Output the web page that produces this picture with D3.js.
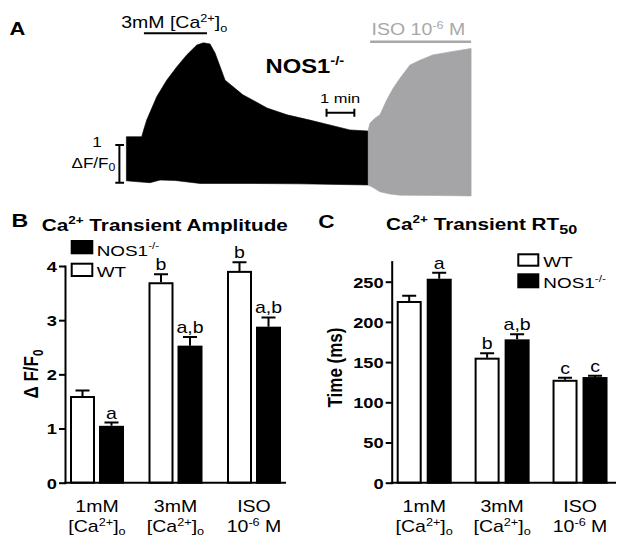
<!DOCTYPE html>
<html><head><meta charset="utf-8">
<script src="https://cdn.jsdelivr.net/npm/d3@7"></script>
<style>body{margin:0;background:#fff}svg{display:block}</style>
</head><body>
<svg id="c" width="624" height="544"></svg>
<script>
// ---------- DATA ----------
// Panel A trace envelope (time in min, value in ΔF/F0)
const blackTop = [[0,1.22],[0.55,1.22],[0.62,1.40],[0.73,1.66],[1.09,2.28],[1.45,2.72],[1.81,3.07],[2.17,3.39],[2.53,3.65],[2.77,3.71],[3.01,3.68],[3.19,3.44],[3.37,3.08],[3.55,2.72],[3.83,2.55],[4.19,2.33],[4.55,2.19],[5.06,1.98],[5.78,1.80],[6.60,1.66],[7.32,1.53],[8.04,1.40],[8.70,1.37]];
const blackBottom = [[0,0.05],[0.31,0.03],[0.85,0],[1.21,0.07],[1.75,0.06],[2.65,-0.02],[4.45,-0.02],[6.24,-0.03],[8.70,-0.06]];
const grayTop = [[8.70,1.40],[8.76,1.58],[8.94,1.71],[9.12,1.80],[9.36,2.19],[9.59,2.50],[9.84,2.77],[10.20,3.12],[10.56,3.25],[11.02,3.39],[11.64,3.47],[12.40,3.56]];
const grayBottom = [[8.70,-0.07],[8.83,-0.11],[9.12,-0.24],[9.48,-0.30],[9.84,-0.33],[11.28,-0.34],[12.40,-0.35]];

// Panels B & C
const categories = ["1mM", "3mM", "ISO"];
const seriesNames = ["WT", "NOS1"];
const ampWT = [1.60, 3.70, 3.91];
const ampWTerr = [0.10, 0.15, 0.16];
const ampNOS = [1.05, 2.53, 2.88];
const ampNOSerr = [0.06, 0.16, 0.17];
const ampWTsig = ["", "b", "b"];
const ampNOSsig = ["a", "a,b", "a,b"];
const ampTicks = [0, 1, 2, 3, 4];

const rtWT = [226, 155.5, 128];
const rtWTerr = [6.6, 5.5, 2.6];
const rtNOS = [253.7, 178.3, 131.4];
const rtNOSerr = [7.3, 6.3, 1.6];
const rtWTsig = ["", "b", "c"];
const rtNOSsig = ["a", "a,b", "c"];
const rtTicks = [0, 50, 100, 150, 200, 250];

const catLine1 = ["1mM", "3mM", "ISO"];
const catLine2 = [
  ["[Ca", ["2+", "sup"], "]", ["o", "sub"]],
  ["[Ca", ["2+", "sup"], "]", ["o", "sub"]],
  ["10", ["-6", "sup"], " M"]
];

// ---------- HELPERS ----------
const FONT = "'Liberation Sans', Arial, Helvetica, sans-serif";
const SX = 1.22;
const svg = d3.select("#c").attr("font-family", FONT);
svg.append("rect").attr("width", 624).attr("height", 544).attr("fill", "#fff");

function label(sel, x, y, parts, o) {
  o = o || {};
  const size = o.size || 16;
  let tr = `translate(${x},${y}) scale(${SX},1)`;
  if (o.rotate) tr += ` rotate(${o.rotate})`;
  const g = sel.append("g").attr("transform", tr);
  const t = g.append("text")
    .attr("font-size", size)
    .attr("font-weight", o.weight || "normal")
    .attr("text-anchor", o.anchor || "start")
    .attr("fill", o.fill || "#000");
  let shift = 0;
  (Array.isArray(parts) ? parts : [parts]).forEach(p => {
    const s = typeof p === "string" ? p : p[0];
    const mode = typeof p === "string" ? "n" : p[1];
    const f = typeof p === "string" ? 1 : (p[2] || 0.65);
    const target = mode === "sup" ? -size * (o.supRaise || 0.42) : mode === "sub" ? size * 0.22 : 0;
    const ts = t.append("tspan").attr("dy", target - shift).text(s);
    if (mode !== "n") ts.attr("font-size", size * f);
    shift = target;
  });
  return g;
}

// ---------- PANEL A ----------
const gA = svg.append("g");
const xT = d3.scaleLinear().domain([0, 12.4]).range([126.4, 471.1]);
const yT = d3.scaleLinear().domain([0, 1]).range([182.7, 145]);
const poly = d3.line().x(d => xT(d[0])).y(d => yT(d[1]));
gA.append("path").attr("d", poly(blackTop.concat(blackBottom.slice().reverse())) + "Z")
  .attr("fill", "#000").attr("stroke", "#000").attr("stroke-width", 0.6);
gA.append("path").attr("d", poly(grayTop.concat(grayBottom.slice().reverse())) + "Z")
  .attr("fill", "#a5a5a8").attr("stroke", "#a5a5a8").attr("stroke-width", 0.6);

label(gA, 9.5, 35, "A", {size: 18, weight: "bold"});
label(gA, 121.2, 28.3, ["3mM [Ca", ["2+", "sup"], "]", ["o", "sub"]], {size: 16});
gA.append("line").attr("x1", xT(0.63)).attr("x2", xT(2.9)).attr("y1", 33.3).attr("y2", 33.3)
  .attr("stroke", "#000").attr("stroke-width", 2);
label(gA, 371.6, 35.3, ["ISO 10", ["-6", "sup"], " M"], {size: 16, fill: "#a8a8a8"});
gA.append("line").attr("x1", xT(8.77)).attr("x2", xT(12.4)).attr("y1", 41.7).attr("y2", 41.7)
  .attr("stroke", "#a8a8a8").attr("stroke-width", 2.5);
label(gA, 265.5, 73.3, ["NOS1", ["-/-", "sup", 0.62]], {size: 19.5, weight: "bold"});
label(gA, 320, 103.3, "1 min", {size: 13.5});
// 1 min scale bar
const sbx0 = xT(7.2), sbx1 = xT(8.2);
gA.append("path").attr("d", `M${sbx0},112.7H${sbx1}M${sbx0},108.7V116.7M${sbx1},108.7V116.7`)
  .attr("stroke", "#000").attr("stroke-width", 2).attr("fill", "none");
// 1 ΔF/F0 scale bar
gA.append("path").attr("d", `M119.4,${yT(0)}V${yT(1)}M115.3,${yT(0)}H124M115.3,${yT(1)}H124`)
  .attr("stroke", "#000").attr("stroke-width", 2).attr("fill", "none");
label(gA, 97, 146.7, "1", {size: 14, anchor: "middle"});
label(gA, 71.5, 168.3, ["ΔF/F", ["0", "sub", 0.72]], {size: 14});

// ---------- BAR PANEL ----------
function barPanel(cfg) {
  const g = svg.append("g");
  const x = d3.scaleBand().domain(categories).range(cfg.xRange);
  const xs = d3.scaleBand().domain(seriesNames).range(cfg.subRange).paddingInner(cfg.subPad);
  const y = d3.scaleLinear().domain(cfg.yDomain).range([482.7, cfg.yTop]);
  const data = [];
  categories.forEach((c, i) => {
    data.push({c, s: "WT", v: cfg.wt[i], e: cfg.wtErr[i], sig: cfg.wtSig[i]});
    data.push({c, s: "NOS1", v: cfg.nos[i], e: cfg.nosErr[i], sig: cfg.nosSig[i]});
  });
  const bw = xs.bandwidth();
  const items = g.selectAll("g.bar").data(data).join("g").attr("class", "bar");
  items.append("rect")
    .attr("x", d => x(d.c) + xs(d.s) + 1)
    .attr("y", d => y(d.v) + 1)
    .attr("width", bw - 2)
    .attr("height", d => y(0) - y(d.v) - 1)
    .attr("fill", d => d.s === "WT" ? "#fff" : "#000")
    .attr("stroke", "#000").attr("stroke-width", 2);
  items.append("path")
    .attr("d", d => {
      const cx = x(d.c) + xs(d.s) + bw / 2;
      return `M${cx},${y(d.v)}V${y(d.v + d.e)}M${cx - 7},${y(d.v + d.e)}H${cx + 7}`;
    })
    .attr("stroke", "#000").attr("stroke-width", 2).attr("fill", "none");
  items.each(function(d) {
    if (!d.sig) return;
    label(d3.select(this), x(d.c) + xs(d.s) + bw / 2, y(d.v + d.e) - 4, d.sig, {size: 16, anchor: "middle"});
  });
  // y axis
  const ax = d3.axisLeft(y).tickValues(cfg.ticks).tickFormat(d3.format("d"))
    .tickSize(6).tickSizeOuter(0).tickPadding(3);
  const ga = g.append("g").attr("transform", `translate(${cfg.axisX},0)`).call(ax);
  ga.select(".domain").attr("stroke-width", 2).attr("stroke-linecap", "square");
  ga.selectAll(".tick line").attr("stroke-width", 2);
  ga.selectAll(".tick text").attr("font-family", FONT).attr("font-size", 15).attr("font-weight", "bold")
    .attr("fill", "#000").attr("x", -8 / SX).attr("dy", "0.36em").attr("transform", `scale(${SX},1)`);
  // x axis line
  g.append("line").attr("x1", cfg.axisX).attr("x2", cfg.axisEnd).attr("y1", y(0)).attr("y2", y(0))
    .attr("stroke", "#000").attr("stroke-width", 2).attr("stroke-linecap", "square");
  // category labels
  categories.forEach((c, i) => {
    const cx = x(c) + x.bandwidth() / 2;
    label(g, cx, 511.5, catLine1[i], {size: 16, anchor: "middle"});
    label(g, cx, 531.5, catLine2[i], {size: 16, anchor: "middle", supRaise: 0.36});
  });
  return {g, x, y};
}

// Panel B
const pB = barPanel({
  xRange: [57.75, 293.25], subRange: [12.25, 66.25], subPad: 0.138,
  yDomain: [0, 4], yTop: 266, ticks: ampTicks, axisX: 65, axisEnd: 285,
  wt: ampWT, wtErr: ampWTerr, nos: ampNOS, nosErr: ampNOSerr, wtSig: ampWTsig, nosSig: ampNOSsig
});
label(pB.g, 11.5, 227, "B", {size: 19, weight: "bold"});
label(pB.g, 41.7, 230.7, ["Ca", ["2+", "sup"], " Transient Amplitude"], {size: 17, weight: "bold"});
label(pB.g, 38, 374, ["Δ F/F", ["0", "sub", 0.7]], {size: 17, weight: "bold", anchor: "middle", rotate: -90});
pB.g.append("rect").attr("x", 71.7).attr("y", 241).attr("width", 20.6).attr("height", 12.3)
  .attr("fill", "#000").attr("stroke", "#000").attr("stroke-width", 2);
label(pB.g, 96.7, 255.5, ["NOS1", ["-/-", "sup", 0.62]], {size: 15.5});
pB.g.append("rect").attr("x", 71.7).attr("y", 263.7).attr("width", 20.6).attr("height", 12.3)
  .attr("fill", "#fff").attr("stroke", "#000").attr("stroke-width", 2);
label(pB.g, 96.7, 276.7, "WT", {size: 15.5});

// Panel C
const pC = barPanel({
  xRange: [385.25, 619], subRange: [11.45, 66.45], subPad: 0.1667,
  yDomain: [0, 275], yTop: 482.7 - 275 * 0.804, ticks: rtTicks, axisX: 391.7, axisEnd: 615,
  wt: rtWT, wtErr: rtWTerr, nos: rtNOS, nosErr: rtNOSerr, wtSig: rtWTsig, nosSig: rtNOSsig
});
label(pC.g, 318.3, 228.3, "C", {size: 18.5, weight: "bold"});
label(pC.g, 386, 230, ["Ca", ["2+", "sup"], " Transient RT", ["50", "sub", 0.78]], {size: 17, weight: "bold"});
label(pC.g, 342.3, 367.5, "Time (ms)", {size: 17, weight: "bold", anchor: "middle", rotate: -90});
pC.g.append("rect").attr("x", 518.3).attr("y", 254.3).attr("width", 20).attr("height", 11.4)
  .attr("fill", "#fff").attr("stroke", "#000").attr("stroke-width", 2);
label(pC.g, 543.3, 266.7, "WT", {size: 15.5});
pC.g.append("rect").attr("x", 518.3).attr("y", 274.3).attr("width", 20).attr("height", 13)
  .attr("fill", "#000").attr("stroke", "#000").attr("stroke-width", 2);
label(pC.g, 543.3, 288.3, ["NOS1", ["-/-", "sup", 0.62]], {size: 15.5});
</script>
</body></html>
